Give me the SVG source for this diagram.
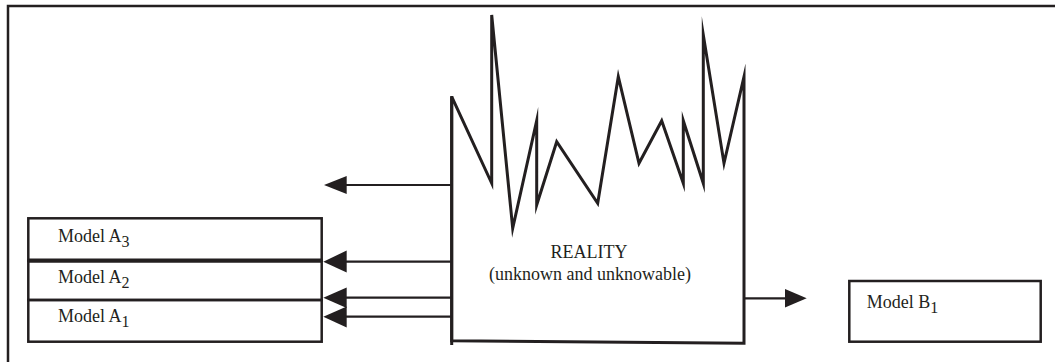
<svg xmlns="http://www.w3.org/2000/svg" width="1055" height="362" viewBox="0 0 1055 362">
<style>
.box{fill:none;stroke:#231f20;stroke-width:2.5}
.conn{fill:none;stroke:#231f20;stroke-width:2.2}
.head{fill:#231f20;stroke:none}
.t{font-family:"Liberation Serif","Times New Roman",serif;font-size:18px;fill:#231f20}
.sub{font-size:16px}
</style>
<rect width="1055" height="362" fill="#fff"/>
<g id="frame"><polyline class="box" points="8,370 8,6 1060,6"/></g>
<g id="reality">
<polyline fill="#fff" stroke="#231f20" stroke-width="3" stroke-linejoin="miter" stroke-miterlimit="20" points="451.7,96.7 491.7,183.3 491.7,15 512.7,228.3 536.7,120.7 536.7,205 556.7,141.7 597.7,203.3 618.3,76.7 639,163.3 661.7,120.7 683.3,183.3 683.3,120.7 703.3,183.3 703.3,35 724,163.3 744,76.7 744,343.3 451.7,340.7 451.7,96.7"/>
<line x1="451.7" y1="96" x2="451.7" y2="345" stroke="#231f20" stroke-width="3"/>
<text class="t" x="589" y="258.3" text-anchor="middle">REALITY</text>
<text class="t" x="590" y="280" text-anchor="middle">(unknown and unknowable)</text>
</g>
<g id="modelA3">
<rect class="box" x="28.3" y="218.3" width="293.4" height="42.4"/>
<text class="t" x="58" y="241.5">Model A<tspan class="sub" dy="5">3</tspan></text>
</g>
<g id="modelA2">
<rect class="box" x="28.3" y="260.7" width="293.4" height="39.3"/>
<line x1="28.3" y1="260.7" x2="321.7" y2="260.7" stroke="#231f20" stroke-width="4.2"/>
<text class="t" x="58" y="283.3">Model A<tspan class="sub" dy="5">2</tspan></text>
</g>
<g id="modelA1">
<rect class="box" x="28.3" y="300" width="293.4" height="41.7"/>
<text class="t" x="58" y="321.7">Model A<tspan class="sub" dy="5">1</tspan></text>
</g>
<g id="modelB1">
<rect class="box" x="849.3" y="281" width="191.4" height="60.7"/>
<text class="t" x="866.7" y="308.3">Model B<tspan class="sub" dy="5">1</tspan></text>
</g>
<g id="connectors">
<line class="conn" x1="451.7" y1="185" x2="345" y2="185"/>
<polygon class="head" points="324,185 346.7,176 346.7,194"/>
<line class="conn" x1="451.7" y1="261.7" x2="345" y2="261.7"/>
<polygon class="head" points="323.3,261.7 346.7,250.5 346.7,272.5"/>
<line class="conn" x1="451.7" y1="297.7" x2="345" y2="297.7"/>
<polygon class="head" points="323.3,297.7 346.7,287.5 346.7,308"/>
<line class="conn" x1="451.7" y1="316.7" x2="345" y2="316.7"/>
<polygon class="head" points="323.3,316.7 346.7,306.5 346.7,327.5"/>
<line class="conn" x1="744" y1="298.3" x2="786" y2="298.3"/>
<polygon class="head" points="806.7,298.3 785,289 785,307.6"/>
</g>
</svg>
